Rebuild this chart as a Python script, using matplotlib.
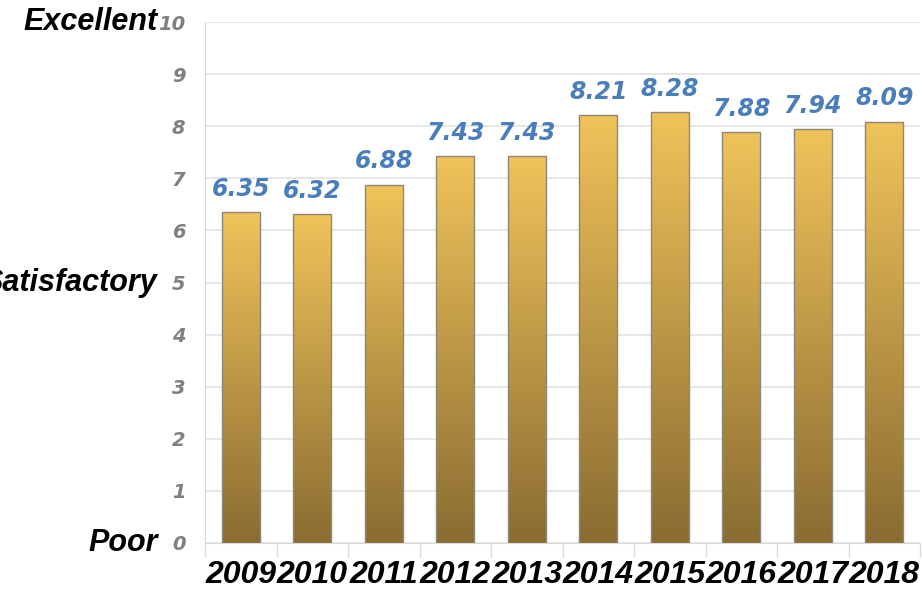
import matplotlib
matplotlib.use("Agg")
import matplotlib.pyplot as plt
import numpy as np
from matplotlib.colors import LinearSegmentedColormap

years = ["2009", "2010", "2011", "2012", "2013", "2014", "2015", "2016", "2017", "2018"]
scores = [6.35, 6.32, 6.88, 7.43, 7.43, 8.21, 8.28, 7.88, 7.94, 8.09]
yticks = [0, 1, 2, 3, 4, 5, 6, 7, 8, 9, 10]
level_labels = {10: "Excellent", 5: "Satisfactory", 0: "Poor"}

fig = plt.figure(figsize=(9.22, 5.89), dpi=100)
ax = fig.add_axes([205/922, 46/589, 715/922, 521/589])

lib = "Liberation Sans"
cmap = LinearSegmentedColormap.from_list("g", ["#8a6c32", "#f0c35a"])
grad = np.linspace(0, 1, 256).reshape(-1, 1)

x = np.arange(len(years))
width = 0.53
bars = ax.bar(x, scores, width=width, color="none", edgecolor="#8c8878", linewidth=1.0, zorder=3)
for b in bars:
    x0, y0 = b.get_x(), b.get_y()
    w, h = b.get_width(), b.get_height()
    im = ax.imshow(grad, cmap=cmap, origin="lower", aspect="auto",
                   extent=[x0, x0 + w, y0, y0 + h], zorder=2)
    im.set_clip_path(b)

for xi, v in zip(x, scores):
    ax.annotate(f"{v:.2f}", xy=(xi, v), xytext=(0, 8), textcoords="offset points",
                ha="center", va="bottom", color="#4a7ebb", fontsize=17,
                fontstyle="italic", fontweight="bold", family="DejaVu Sans")

ax.set_xlim(-0.5, len(years) - 0.5)
ax.set_ylim(0, 10)
ax.set_yticks(yticks)
ax.set_yticklabels([str(t) for t in yticks], color="#808080", fontsize=14,
                   fontstyle="italic", fontweight="bold", family="DejaVu Sans")
ax.set_xticks(x)
ax.set_xticklabels(years, fontsize=23, fontstyle="italic", fontweight="bold",
                   family=lib, color="black")
ax.set_xticks(np.arange(len(years) + 1) - 0.5, minor=True)
ax.tick_params(axis="x", which="major", length=0, pad=12)
ax.tick_params(axis="x", which="minor", length=10, color="#d9d9d9", width=1)
ax.tick_params(axis="y", length=0, pad=14)

ax.grid(axis="y", color="#e3e3e3", linewidth=1.2, zorder=0)
ax.set_axisbelow(True)
for s in ["top", "right"]:
    ax.spines[s].set_visible(False)
ax.spines["left"].set_color("#d9d9d9")
ax.spines["bottom"].set_color("#d9d9d9")

for val, lab in level_labels.items():
    ax.annotate(lab, xy=(0, val), xycoords=("axes fraction", "data"),
                xytext=(-34, 0), textcoords="offset points", ha="right", va="center",
                fontsize=22, fontstyle="italic", fontweight="bold", family=lib,
                color="black", annotation_clip=False)

fig.savefig("out.png", dpi=100)
